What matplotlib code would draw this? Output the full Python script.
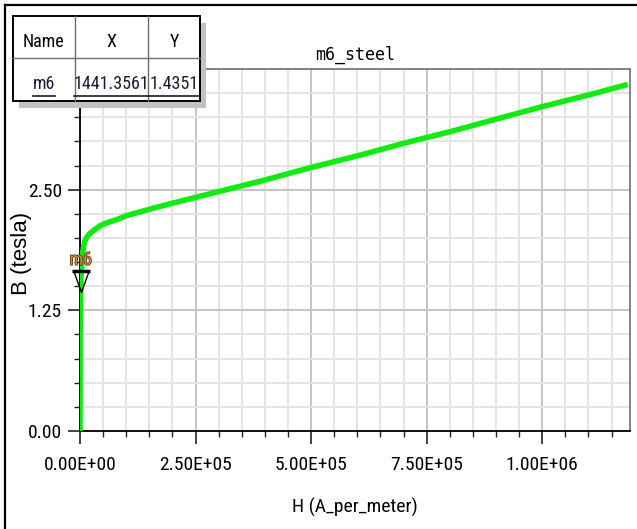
import matplotlib
matplotlib.use("Agg")
import matplotlib.pyplot as plt
from matplotlib import font_manager
from matplotlib.path import Path
from matplotlib.patches import Rectangle
from matplotlib.lines import Line2D
from matplotlib.ticker import MultipleLocator, FuncFormatter
import matplotlib.patheffects as pe

# B-H curve of the m6 steel material
H_vals = [0, 300, 700, 1441.3561, 2500, 4000, 6000, 10000, 15000, 20000, 30000,
          45000, 60000, 80000, 100000, 130000, 160000, 200000, 250000, 300000,
          400000, 500000, 600000, 700000, 800000, 900000, 1000000, 1100000, 1185000]
B_vals = [0, 0.95, 1.25, 1.4351, 1.62, 1.76, 1.86, 1.96, 2.01, 2.04, 2.08,
          2.13, 2.16, 2.19, 2.23, 2.27, 2.31, 2.36, 2.42, 2.48,
          2.60, 2.73, 2.85, 2.98, 3.10, 3.23, 3.36, 3.48, 3.59]

# marker m6
marker_name = "m6"
marker_x = 1441.3561
marker_y = 1.4351

title = "m6_steel"
x_label = "H (A_per_meter)"
y_label = "B (tesla)"
x_major = 250000
x_minor = 50000
y_major = 1.25
y_minor = 0.25


def pick_font(candidates):
    names = {f.name for f in font_manager.fontManager.ttflist}
    for c in candidates:
        if c in names:
            return c
    return "DejaVu Sans"


NARROW = pick_font(["Liberation Sans Narrow", "Roboto Condensed", "Open Sans Condensed",
                    "Liberation Sans"])
REGULAR = pick_font(["Liberation Sans", "Arial", "DejaVu Sans"])
MONO = pick_font(["DejaVu Sans Mono", "Liberation Mono"])

W, H = 637, 529
fig = plt.figure(figsize=(W / 100, H / 100), dpi=100)
fig.patch.set_facecolor("white")

# plot area in pixels: left 80, right 630, top 69, bottom 431
ax = fig.add_axes([80 / W, (H - 431) / H, 550 / W, 362 / H])
ax.set_xlim(0, 1.19e6)
ax.set_ylim(0, 3.75)

ax.plot(H_vals, B_vals, color="#12ea12", lw=4.0, solid_capstyle="butt",
        solid_joinstyle="round", zorder=3)

# grid
ax.xaxis.set_major_locator(MultipleLocator(x_major))
ax.xaxis.set_minor_locator(MultipleLocator(x_minor))
ax.yaxis.set_major_locator(MultipleLocator(y_major))
ax.yaxis.set_minor_locator(MultipleLocator(y_minor))
ax.grid(which="major", color="#c4c4c4", lw=1.4, zorder=0)
ax.grid(which="minor", color="#e4e4e4", lw=1.4, zorder=0)
ax.set_axisbelow(True)

ax.xaxis.set_major_formatter(FuncFormatter(lambda v, p: "{:.2E}".format(v)))
ax.yaxis.set_major_formatter(FuncFormatter(lambda v, p: "{:.2f}".format(v)))

ax.tick_params(which="major", direction="out", length=9, width=1.2, color="#222222")
ax.tick_params(axis="x", which="major", pad=9)
ax.tick_params(axis="y", which="major", pad=4)
ax.tick_params(which="minor", direction="out", length=4, width=1.0, color="#222222")
for lab in ax.get_xticklabels() + ax.get_yticklabels():
    lab.set_fontfamily(NARROW)
    lab.set_fontsize(14)

for side in ("left", "bottom"):
    ax.spines[side].set_color("black")
    ax.spines[side].set_linewidth(1.3)
for side in ("top", "right"):
    ax.spines[side].set_color("#7a7a7a")
    ax.spines[side].set_linewidth(1.3)

ax.set_xlabel(x_label, fontfamily=NARROW, fontsize=14)
ax.xaxis.set_label_coords(0.5, -0.185)
ax.set_ylabel(y_label, fontfamily=REGULAR, fontsize=16)
ax.yaxis.set_label_coords(-0.087, 0.49)
ax.set_title(title, fontfamily=MONO, fontsize=12, pad=7)

# marker glyph: open downward triangle with a bar on top, tip at the point
tri = Path([(-0.36, 1.0), (0.36, 1.0), (0.0, 0.0), (-0.36, 1.0)],
           [Path.MOVETO, Path.LINETO, Path.LINETO, Path.CLOSEPOLY])
bar = Path([(-0.45, 1.0), (0.45, 1.0)], [Path.MOVETO, Path.LINETO])
ax.plot([marker_x], [marker_y], marker=tri, ms=30, mfc="none", mec="black", mew=1.0,
        ls="none", clip_on=False, zorder=5)
ax.plot([marker_x], [marker_y], marker=bar, ms=30, mec="black", mew=2.5,
        ls="none", clip_on=False, zorder=5)
ax.annotate(marker_name, (marker_x, marker_y), xytext=(0, 17), textcoords="offset points",
            ha="center", va="bottom", fontfamily=NARROW, fontsize=13,
            color="#d08a40", zorder=6,
            path_effects=[pe.withStroke(linewidth=1.0, foreground="#4a3010")])

# overlay in pixel coordinates for the frame and the marker table
ov = fig.add_axes([0, 0, 1, 1], zorder=10)
ov.set_xlim(0, W)
ov.set_ylim(H, 0)
ov.axis("off")
ov.patch.set_visible(False)

# outer frame (left and top edges)
ov.add_line(Line2D([5, 5], [5, H], color="black", lw=1.6))
ov.add_line(Line2D([5, W], [5, 5], color="black", lw=1.6))

# table with drop shadow
tx0, tx1, ty0, ty1 = 13, 200, 16, 101
ov.add_patch(Rectangle((tx0 + 6, ty0 + 7), tx1 - tx0, ty1 - ty0, facecolor="#c2c2c2",
                       edgecolor="none", zorder=1))
ov.add_patch(Rectangle((tx0, ty0), tx1 - tx0, ty1 - ty0, facecolor="white",
                       edgecolor="black", lw=1.4, zorder=2))
col_edges = [tx0, 75, 148, tx1]
row_mid = 58
for cx in col_edges[1:-1]:
    ov.add_line(Line2D([cx, cx], [ty0, ty1], color="#707070", lw=1.0, zorder=3))
ov.add_line(Line2D([tx0, tx1], [row_mid, row_mid], color="#707070", lw=1.0, zorder=3))

headers = ["Name", "X", "Y"]
row = [marker_name, "{:.4f}".format(marker_x), "{:.4f}".format(marker_y)]
centers = [(col_edges[i] + col_edges[i + 1]) / 2 for i in range(3)]
for cx, t in zip(centers, headers):
    ov.text(cx, 42, t, ha="center", va="center", fontfamily=NARROW, fontsize=13,
            color="black", zorder=4)
row_texts = []
for cx, t in zip(centers, row):
    row_texts.append(ov.text(cx, 84, t, ha="center", va="center", fontfamily=NARROW,
                             fontsize=13, color="#1a1a33", zorder=4))

# underline the row entries
fig.canvas.draw()
inv = ov.transData.inverted()
for t in row_texts:
    bb = t.get_window_extent()
    (x0, _), (x1, _) = inv.transform([(bb.x0, bb.y0), (bb.x1, bb.y0)])
    ov.add_line(Line2D([x0, x1], [96, 96], color="#1a1a33", lw=1.2, zorder=4))

fig.savefig("out.png", dpi=100, facecolor="white")
